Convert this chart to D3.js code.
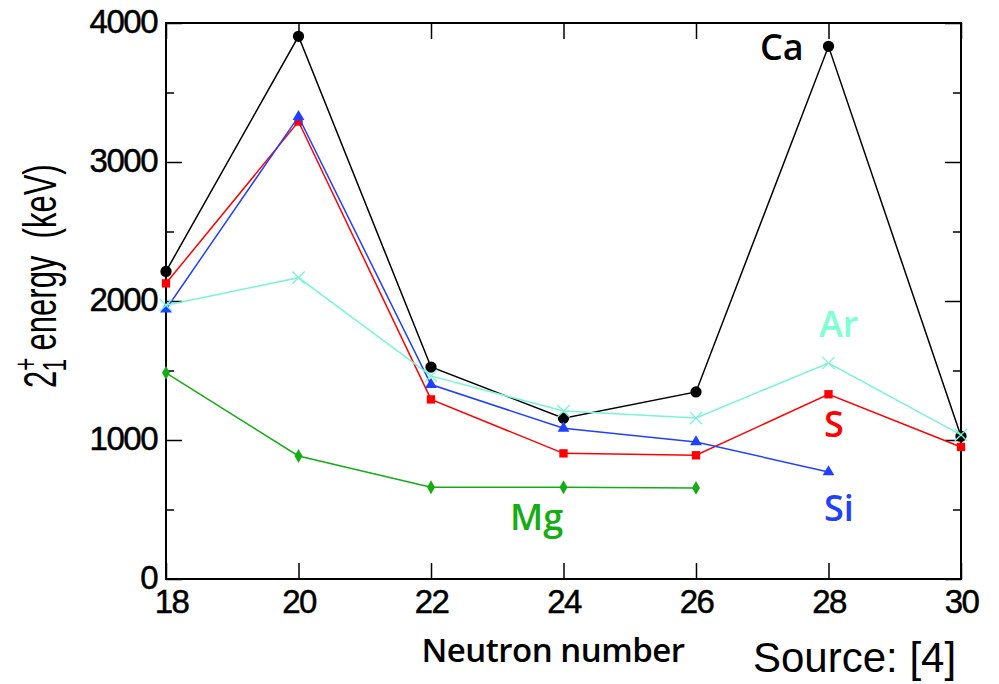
<!DOCTYPE html>
<html>
<head>
<meta charset="utf-8">
<script src="https://cdn.jsdelivr.net/npm/d3@7"></script>
<style>
  body { margin: 0; background: #fff; }
  svg { display: block; }
  .tick line { stroke: #000; stroke-width: 1.5; }
  .domain { display: none; }
</style>
</head>
<body>
<svg id="chart" width="999" height="684"></svg>
<script>
// neutron numbers on the x axis
var neutrons = [18, 20, 22, 24, 26, 28, 30];

// 2+ energies (keV), per element
var caEnergy = [2213, 3904, 1525, 1157, 1346, 3832, 1027];
var sEnergy  = [2127, 3291, 1292, 904, 890, 1329, 950];
var siEnergy = [1941, 3326, 1399, 1084, 986, 770];
var arEnergy = [1970, 2168, 1461, 1208, 1158, 1554, 1037];
var mgEnergy = [1483, 885, 660, 660, 655];

var yMajor = [0, 1000, 2000, 3000, 4000];
var yMinor = [500, 1500, 2500, 3500];

var svg = d3.select("#chart");
var margin = { top: 23, left: 166 };
var width = 795, height = 556;

var g = svg.append("g")
  .attr("transform", "translate(" + margin.left + "," + margin.top + ")");

var x = d3.scaleLinear().domain([18, 30]).range([0, width]);
var y = d3.scaleLinear().domain([0, 4000]).range([height, 0]);

// axes, ticks pointing inward on all four sides
var yAxis = g.append("g").call(d3.axisLeft(y).tickValues(yMajor).tickSize(-16).tickPadding(9).tickFormat(d3.format("d")));
g.append("g").call(d3.axisLeft(y).tickValues(yMinor).tickSize(-8).tickFormat(""));
g.append("g").attr("transform", "translate(" + width + ",0)")
  .call(d3.axisRight(y).tickValues(yMajor).tickSize(-16).tickFormat(""));
g.append("g").attr("transform", "translate(" + width + ",0)")
  .call(d3.axisRight(y).tickValues(yMinor).tickSize(-8).tickFormat(""));
var xAxis = g.append("g").attr("transform", "translate(0," + height + ")")
  .call(d3.axisBottom(x).tickValues(neutrons).tickSize(-16).tickPadding(11));
g.append("g")
  .call(d3.axisTop(x).tickValues(neutrons).tickSize(-16).tickFormat(""));

[yAxis, xAxis].forEach(function(a) {
  a.selectAll("text")
    .style("font-family", "'Liberation Sans', Arial, sans-serif")
    .style("font-size", "33px")
    .style("letter-spacing", "-1.5px")
    .attr("fill", "#000")
    .attr("stroke", "#000")
    .attr("stroke-width", 0.5);
});
yAxis.selectAll("text").attr("dy", "0.3em");
xAxis.selectAll("text").filter(function(d) { return d === 18; }).attr("dx", 5);

g.append("rect")
  .attr("width", width).attr("height", height)
  .attr("fill", "none").attr("stroke", "#000").attr("stroke-width", 2);

var line = d3.line()
  .x(function(d) { return x(d.n); })
  .y(function(d) { return y(d.e); });

function series(values, color, shape, size) {
  var pts = values.map(function(e, i) { return { n: neutrons[i], e: e }; });
  g.append("path").datum(pts)
    .attr("d", line)
    .attr("fill", "none")
    .attr("stroke", color)
    .attr("stroke-width", 1.5);
  var sym = d3.symbol().type(shape).size(size);
  g.selectAll(null).data(pts).enter().append("path")
    .attr("transform", function(d) { return "translate(" + x(d.n) + "," + y(d.e) + ")"; })
    .attr("d", sym)
    .attr("fill", shape === d3.symbolX ? "none" : color)
    .attr("stroke", color)
    .attr("stroke-width", shape === d3.symbolX ? 1.3 : 0);
}

series(caEnergy, "#000000", d3.symbolCircle, 100);
series(sEnergy, "#ff0000", d3.symbolSquare, 70);
series(siEnergy, "#2040ff", d3.symbolTriangle, 60);
series(arEnergy, "#78f5d6", d3.symbolX, 100);
series(mgEnergy, "#14ad14", d3.symbolDiamond, 55);

// element labels
var labels = [
  { t: "Ca", x: 760, y: 60, c: "#000000" },
  { t: "Ar", x: 819, y: 337, c: "#7fffd4" },
  { t: "S", x: 824, y: 437, c: "#ff0000" },
  { t: "Si", x: 824, y: 521, c: "#2040ff" },
  { t: "Mg", x: 510, y: 530, c: "#14ad14" }
];
svg.selectAll(".elabel").data(labels).enter().append("text")
  .attr("class", "elabel")
  .attr("x", function(d) { return d.x; })
  .attr("y", function(d) { return d.y; })
  .attr("fill", function(d) { return d.c; })
  .style("font-family", "'Open Sans', sans-serif")
  .style("font-weight", 600)
  .style("font-size", "36px")
  .text(function(d) { return d.t; });

// axis titles
svg.append("text")
  .attr("x", 553)
  .attr("y", 662)
  .attr("text-anchor", "middle")
  .style("font-family", "'Open Sans', sans-serif")
  .style("font-weight", 600)
  .style("font-size", "33px")
  .style("letter-spacing", "-0.5px")
  .text("Neutron number");

var ylab = svg.append("text")
  .attr("transform", "translate(56,388) rotate(-90) scale(0.66,1)")
  .style("font-family", "'Liberation Sans', Arial, sans-serif")
  .style("font-size", "47px")
  .attr("fill", "#000");
ylab.append("tspan").text("2");
ylab.append("tspan").attr("dy", -19).style("font-size", "34px").text("+");
ylab.append("tspan").attr("dx", -21).attr("dy", 29).style("font-size", "34px").text("1");
ylab.append("tspan").attr("dy", -10).text("\u00a0energy\u00a0\u00a0(keV)");

svg.append("text")
  .attr("x", 753)
  .attr("y", 672)
  .style("font-family", "'Liberation Sans', Arial, sans-serif")
  .style("font-size", "42px")
  .text("Source: [4]");
</script>
</body>
</html>
